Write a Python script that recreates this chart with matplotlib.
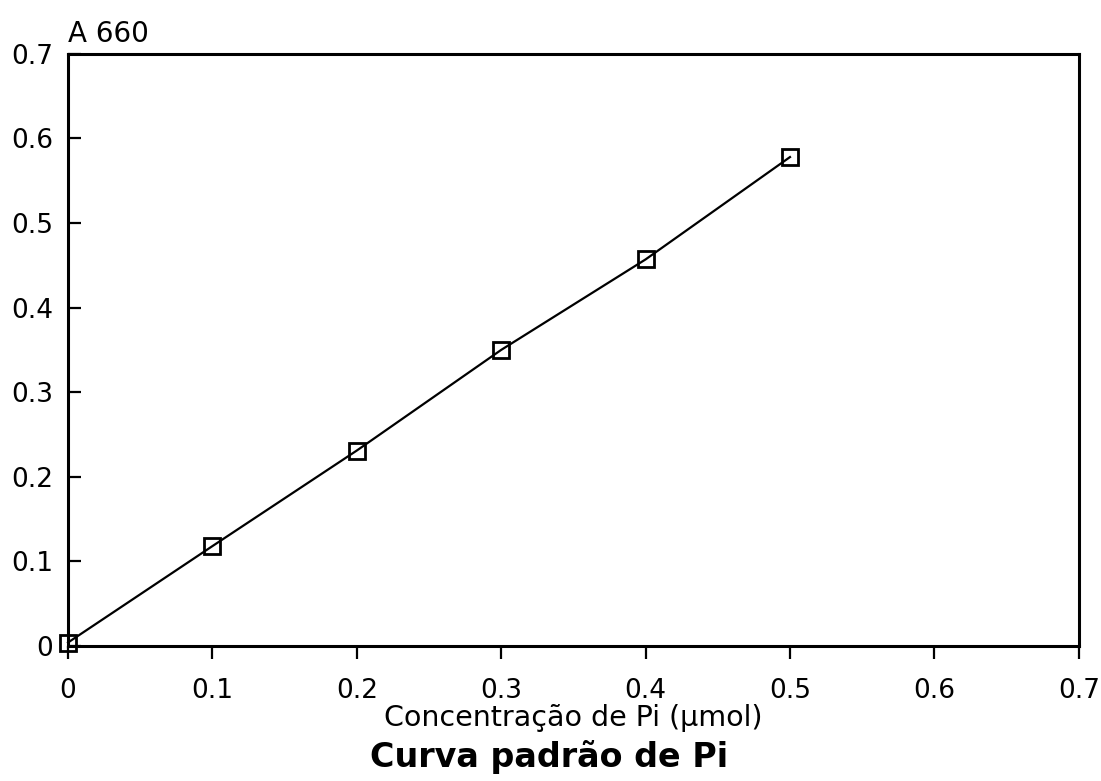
import matplotlib
matplotlib.use("Agg")
import matplotlib.pyplot as plt

plt.rcParams['font.family'] = ['DejaVu Sans']

# standard curve for inorganic phosphate
conc = [0.0, 0.1, 0.2, 0.3, 0.4, 0.5]
a660 = [0.004, 0.118, 0.231, 0.350, 0.457, 0.578]

ticks = [0, 0.1, 0.2, 0.3, 0.4, 0.5, 0.6, 0.7]
tick_labels = ["0", "0.1", "0.2", "0.3", "0.4", "0.5", "0.6", "0.7"]

fig = plt.figure(figsize=(11.01, 7.81), dpi=100, facecolor='w')
ax = fig.add_axes([0.0618, 0.173, 0.918, 0.758])

ax.plot(conc, a660, color='k', lw=1.6, marker='s', markersize=11,
        markerfacecolor='none', markeredgecolor='k', markeredgewidth=2.0,
        clip_on=False)

ax.set_xlim(0, 0.7)
ax.set_ylim(0, 0.7)
ax.set_xticks(ticks)
ax.set_xticklabels(tick_labels)
ax.set_yticks(ticks)
ax.set_yticklabels(tick_labels)

for s in ax.spines.values():
    s.set_linewidth(2.2)

ax.tick_params(axis='x', direction='out', length=9, width=1.6, pad=14, labelsize=19)
ax.tick_params(axis='y', direction='in', length=9, width=1.6, pad=11, labelsize=19)

ax.text(0, 1.01, "A 660", transform=ax.transAxes, ha='left', va='bottom', fontsize=20)

ax.set_xlabel("Concentração de Pi (µmol)", fontsize=20.5, labelpad=0)
fig.text(0.499, 0.009, "Curva padrão de Pi", ha='center', va='bottom',
         fontsize=24, fontweight='bold')

fig.savefig("out.png", dpi=100)
